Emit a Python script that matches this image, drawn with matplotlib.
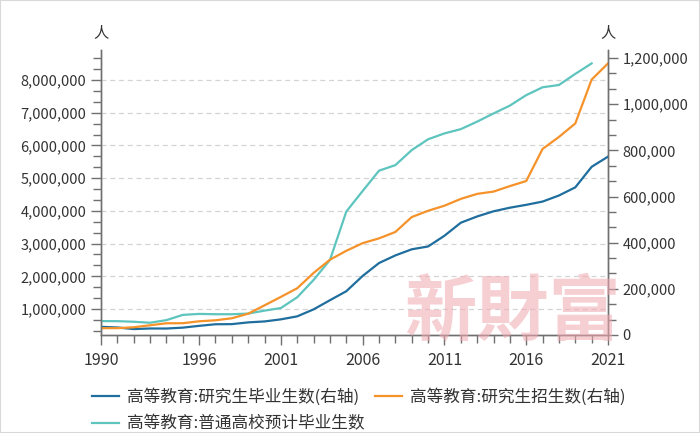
import matplotlib
matplotlib.use('Agg')
import matplotlib.pyplot as plt
from matplotlib.ticker import MultipleLocator, FuncFormatter
from matplotlib.patches import Rectangle

plt.rcParams['font.family'] = ['Noto Sans CJK SC', 'DejaVu Sans']

years = list(range(1990, 2022))
years_teal = list(range(1990, 2021))

# 高等教育:研究生毕业生数 (右轴)
grad_out = [35440, 32537, 25692, 28214, 28047, 31877, 39652, 46539, 47077, 54670,
            58767, 67809, 80841, 111091, 150777, 189728, 255902, 311839, 344825, 371273,
            383600, 429994, 486455, 513626, 535863, 551522, 563938, 578045, 604368, 639666,
            728627, 772761]
# 高等教育:研究生招生数 (右轴)
grad_in = [29649, 29679, 33439, 42145, 50864, 51053, 59398, 63749, 72508, 92225,
           128484, 165197, 202611, 268925, 326286, 364831, 397925, 418612, 446422, 510953,
           538177, 560168, 589673, 611381, 621323, 645055, 667064, 806103, 857966, 916503,
           1106551, 1176526]
# 高等教育:普通高校预计毕业生数 (左轴)
undergrad = [630000, 628000, 610000, 580000, 660000, 820000, 850000, 840000, 840000, 860000,
             950000, 1030000, 1360000, 1890000, 2500000, 3980000, 4610000, 5230000, 5400000, 5860000,
             6190000, 6370000, 6500000, 6730000, 6980000, 7220000, 7540000, 7780000, 7850000, 8190000,
             8510000]

labels = ['高等教育:研究生毕业生数(右轴)', '高等教育:普通高校预计毕业生数', '高等教育:研究生招生数(右轴)']
colors = ['#1f6e9e', '#5ec4be', '#f5922a']
major_years = [1990, 1996, 2001, 2006, 2011, 2016, 2021]

fig = plt.figure(figsize=(7, 4.33), dpi=100)
ax = fig.add_axes([101 / 700, 1 - 335 / 433, 507 / 700, 285 / 433])
ax2 = ax.twinx()

axis_col = '#707070'
text_col = '#333333'

l_teal, = ax.plot(years_teal, undergrad, color=colors[1], lw=1.6)
l_blue, = ax2.plot(years, grad_out, color=colors[0], lw=1.6)
l_orange, = ax2.plot(years, grad_in, color=colors[2], lw=1.6)

ax.set_xlim(1990, 2021)
ax.set_ylim(205000, 8920000)
ax2.set_ylim(0, 1234700)

ax.set_xticks(major_years)
ax.xaxis.set_minor_locator(MultipleLocator(1))
ax.yaxis.set_major_locator(MultipleLocator(1000000))
ax.yaxis.set_minor_locator(MultipleLocator(1000000 / 3))
ax2.yaxis.set_major_locator(MultipleLocator(200000))
ax2.yaxis.set_minor_locator(MultipleLocator(200000 / 3))
fmt = FuncFormatter(lambda v, p: f'{int(round(v)):,}')
ax.yaxis.set_major_formatter(fmt)
ax2.yaxis.set_major_formatter(fmt)

ax.grid(axis='y', which='major', linestyle=(0, (4, 3)), color='#d4d4d4', lw=0.9)

for a in (ax, ax2):
    for s in a.spines.values():
        s.set_color(axis_col)
        s.set_linewidth(1.0)
    a.spines['top'].set_visible(False)
    a.tick_params(which='both', color=axis_col, labelcolor=text_col, labelsize=10.5, width=1.0)
    a.tick_params(which='major', length=7)
    a.tick_params(which='minor', length=6)
ax.tick_params(axis='x', labelsize=11.5, pad=5)

ax.text(0, 1.03, '人', transform=ax.transAxes, ha='center', va='bottom', fontsize=11, color=text_col)
ax2.text(1, 1.03, '人', transform=ax2.transAxes, ha='center', va='bottom', fontsize=11, color=text_col)

fig.text(512 / 700, 1 - 314 / 433, '新財富', family=['Noto Sans CJK TC', 'DejaVu Sans'],
         fontsize=52, fontweight='bold', color='#f0a8b0', alpha=0.55, ha='center', va='center', zorder=10)

fig.legend([l_blue, l_teal, l_orange], labels, ncol=2, loc='upper left',
           bbox_to_anchor=(77 / 700, 1 - 373 / 433), frameon=False, fontsize=12,
           handlelength=1.6, handletextpad=0.5, columnspacing=0.65, labelspacing=0.6,
           labelcolor=text_col)

fig.patches.append(Rectangle((0, 0), 1, 1, transform=fig.transFigure, fill=False,
                             edgecolor='#d8d8d8', lw=1.5))

fig.savefig('out.png', dpi=100)
plt.close(fig)
print('plot in out.png gespeichert')
